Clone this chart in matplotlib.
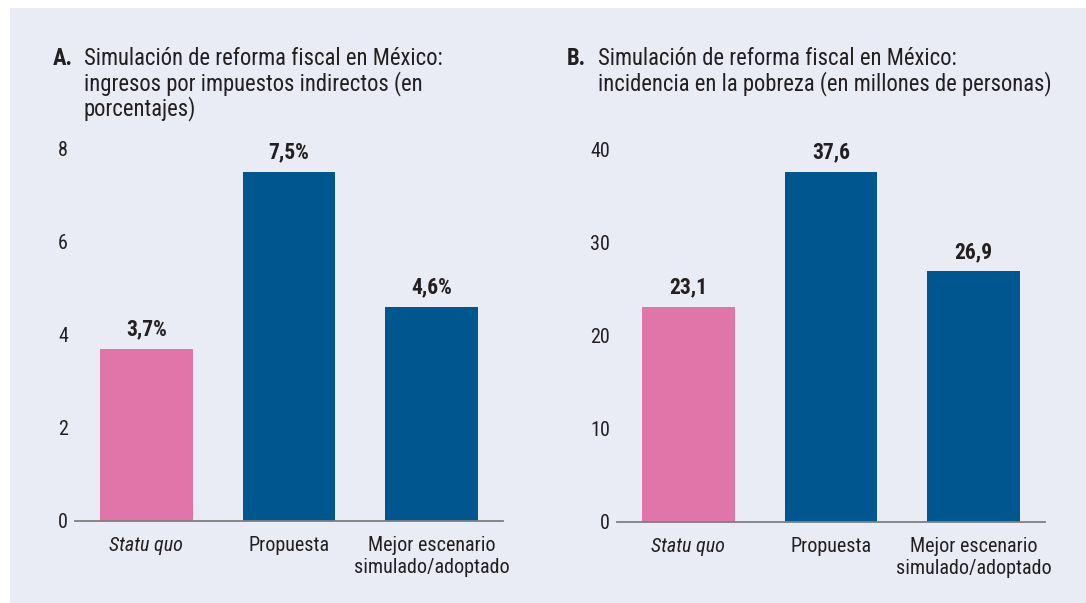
import matplotlib.pyplot as plt
from matplotlib.patches import Rectangle

categories = ["Statu quo", "Propuesta", "Mejor escenario\nsimulado/adoptado"]
ingresos = [3.7, 7.5, 4.6]
pobreza = [23.1, 37.6, 26.9]
ingresos_labels = ["3,7%", "7,5%", "4,6%"]
pobreza_labels = ["23,1", "37,6", "26,9"]
titulo_a = ["Simulación de reforma fiscal en México:",
            "ingresos por impuestos indirectos (en",
            "porcentajes)"]
titulo_b = ["Simulación de reforma fiscal en México:",
            "incidencia en la pobreza (en millones de personas)"]

plt.rcParams['font.family'] = ['Roboto Condensed', 'Archivo Narrow', 'DejaVu Sans']

BG = "#e9ecf5"
TXT = "#231f20"
PINK = "#e075aa"
BLUE = "#00568f"
colors = [PINK, BLUE, BLUE]

W, H = 1086, 603
fig = plt.figure(figsize=(W / 100, H / 100), dpi=100)
fig.patch.set_facecolor("white")
fig.add_artist(Rectangle((10 / W, 0), 1, 595 / H, transform=fig.transFigure,
                         facecolor=BG, edgecolor="none", zorder=0))


def panel(left, right, base, top, values, labels, ymax, step, tx, letter, title):
    ax = fig.add_axes([left / W, 1 - base / H, (right - left) / W, (base - top) / H])
    ax.set_facecolor("none")
    x = range(len(values))
    ax.bar(x, values, width=0.65, color=colors, zorder=2)
    for xi, v, lab in zip(x, values, labels):
        ax.annotate(lab, (xi, v), xytext=(0, 9.7), textcoords="offset points",
                    ha="center", va="baseline", fontsize=15.5, fontweight="bold", color=TXT)
    ax.set_ylim(0, ymax)
    ax.set_xlim(-0.5, 2.5)
    ax.set_yticks(range(0, ymax + 1, step))
    ax.set_xticks(list(x))
    ax.set_xticklabels(categories, fontsize=14.5, color=TXT, linespacing=1.2)
    ax.get_xticklabels()[0].set_style("italic")
    ax.tick_params(axis="y", length=0, labelsize=14.5, labelcolor=TXT, pad=5)
    ax.tick_params(axis="x", length=0, pad=11)
    for s in ["top", "right", "left"]:
        ax.spines[s].set_visible(False)
    ax.spines["bottom"].set_color("#7f7f7f")
    ax.spines["bottom"].set_linewidth(1.3)
    ax.spines["bottom"].set_zorder(3)
    # panel heading, one line at a time
    fig.text(tx / W, 1 - 65 / H, letter, fontsize=16.3, fontweight="bold", color=TXT,
             va="baseline", ha="left")
    for i, line in enumerate(title):
        fig.text((tx + 31) / W, 1 - (65 + 25 * i) / H, line, fontsize=16.3, color=TXT,
                 va="baseline", ha="left")
    return ax


panel(75, 503, 520.7, 149, ingresos, ingresos_labels, 8, 2, 52.7, "A.", titulo_a)
panel(617, 1045, 521.7, 149.5, pobreza, pobreza_labels, 40, 10, 567, "B.", titulo_b)

fig.savefig("out.png", dpi=100, facecolor=fig.get_facecolor())
